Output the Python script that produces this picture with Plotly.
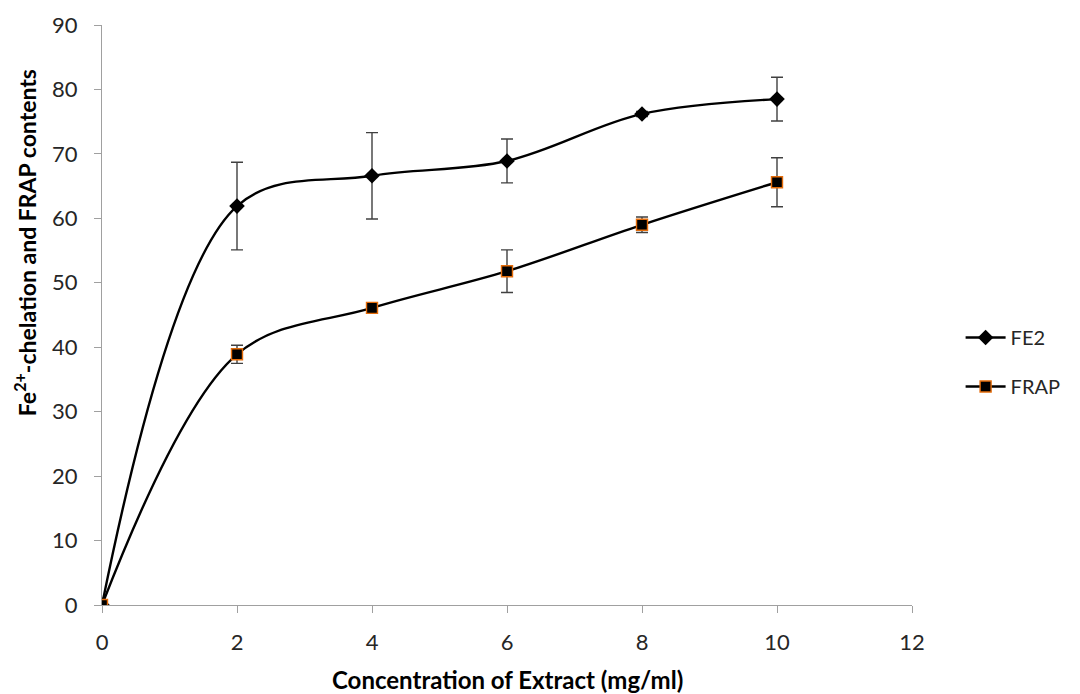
import plotly.graph_objects as go

concentration = [0, 2, 4, 6, 8, 10]
fe2_values = [0, 61.9, 66.6, 68.9, 76.2, 78.5]
fe2_errors = [0, 6.8, 6.7, 3.4, 0.4, 3.4]
frap_values = [0, 38.9, 46.1, 51.8, 59.0, 65.6]
frap_errors = [0, 1.4, 0.4, 3.3, 1.2, 3.8]
x_ticks = [0, 2, 4, 6, 8, 10, 12]
y_ticks = [0, 10, 20, 30, 40, 50, 60, 70, 80, 90]

LABEL_FONT = "Lato, 'Open Sans', sans-serif"
ERR_COLOR = "#404040"
TICK_TEXT = "#262626"

fig = go.Figure()
fig.add_trace(go.Scatter(
    x=concentration, y=fe2_values, name="FE2", legendgroup="a",
    mode="lines+markers",
    line=dict(color="black", width=2.4, shape="spline", smoothing=1.0),
    marker=dict(symbol="diamond", size=12, color="black"),
    error_y=dict(type="data", array=fe2_errors, visible=True,
                 color=ERR_COLOR, thickness=1.4, width=6),
))
fig.add_trace(go.Scatter(
    x=concentration, y=frap_values, name="FRAP", legendgroup="b",
    mode="lines+markers",
    line=dict(color="black", width=2.4, shape="spline", smoothing=1.0),
    marker=dict(symbol="square", size=11, color="black",
                line=dict(color="#E46C0A", width=1.4)),
    error_y=dict(type="data", array=frap_errors, visible=True,
                 color=ERR_COLOR, thickness=1.4, width=6),
))

# Page body has an 8px default margin, so the figure is reduced by that
fig.update_layout(
    width=1072, height=686,
    margin=dict(l=94, r=168, t=17, b=89),
    paper_bgcolor="white", plot_bgcolor="white",
    showlegend=True,
    legend=dict(x=1.06, y=0.419, xanchor="left", yanchor="middle",
                font=dict(family=LABEL_FONT, size=20, color=TICK_TEXT),
                itemwidth=40,
                tracegroupgap=20, bgcolor="rgba(0,0,0,0)"),
    xaxis=dict(range=[0, 12], tickvals=x_ticks, ticks="outside", ticklen=7,
               tickcolor="#A0A0A0", showline=True, linecolor="#A0A0A0",
               linewidth=1.3, showgrid=False, zeroline=False,
               ticklabelstandoff=10, automargin=False,
               tickfont=dict(family=LABEL_FONT, size=22, color=TICK_TEXT)),
    yaxis=dict(range=[0, 90], tickvals=y_ticks, ticks="outside", ticklen=7,
               tickcolor="#A0A0A0", showline=True, linecolor="#A0A0A0",
               linewidth=1.3, showgrid=False, zeroline=False,
               ticklabelstandoff=12, automargin=False,
               tickfont=dict(family=LABEL_FONT, size=22, color=TICK_TEXT)),
    annotations=[
        dict(text="<b>Fe<sup>2+</sup>-chelation and FRAP contents</b>",
             textangle=-90, xref="paper", yref="paper",
             x=-0.095, y=0.624, xanchor="center", yanchor="middle",
             showarrow=False,
             font=dict(family=LABEL_FONT, size=23, color="black")),
        dict(text="<b>Concentration of Extract (mg/ml)</b>",
             xref="paper", yref="paper",
             x=0.5, y=-0.129, xanchor="center", yanchor="middle",
             showarrow=False,
             font=dict(family=LABEL_FONT, size=24, color="black")),
    ],
)

fig.write_html("out.html")
